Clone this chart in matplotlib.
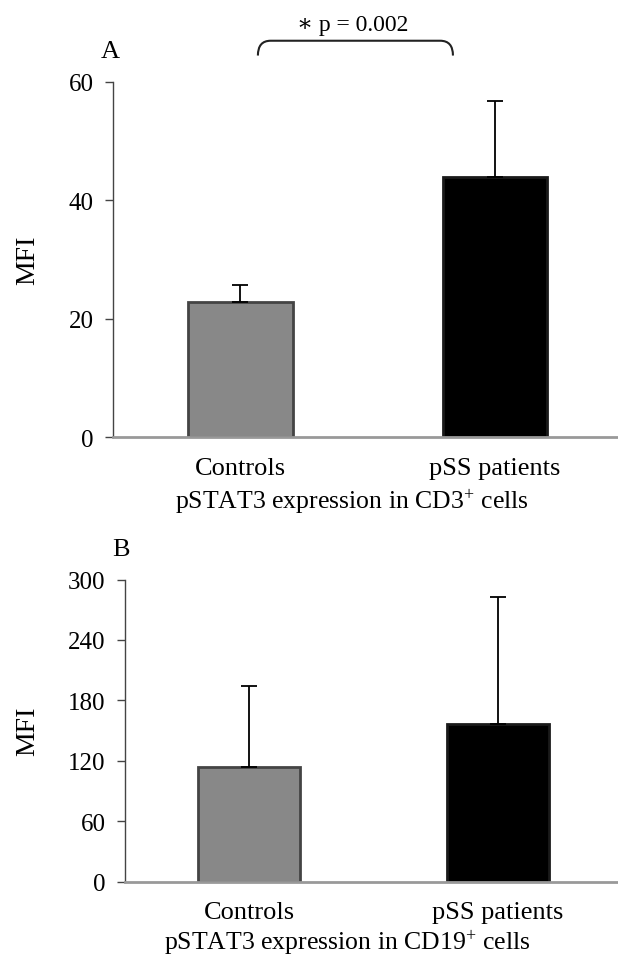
import numpy as np
import matplotlib
matplotlib.use("Agg")
from matplotlib import pyplot as plt
from matplotlib.path import Path
from matplotlib.patches import PathPatch

plt.rcParams['font.family'] = ['Liberation Serif', 'DejaVu Serif']
plt.rcParams['mathtext.fontset'] = 'custom'
plt.rcParams['mathtext.rm'] = 'Liberation Serif'
plt.rcParams['mathtext.it'] = 'Liberation Serif:italic'

groups = ["Controls", "pSS patients"]
bar_colors = ["#888888", "#000000"]
edge_colors = ["#444444", "#1a1a1a"]

# panel A: CD3+ cells
cd3_mean = [22.9, 43.9]
cd3_err = [2.8, 12.8]
cd3_ticks = [0, 20, 40, 60]

# panel B: CD19+ cells
cd19_mean = [114.4, 156.5]
cd19_err = [79.5, 126.6]
cd19_ticks = [0, 60, 120, 180, 240, 300]

p_text = "∗ p = 0.002"


def draw_panel(ax, mean, err, ticks, xlabel, letter, xlab_pos, ylab_x, letter_pos):
    x = np.arange(len(groups))
    ax.bar(x, mean, width=0.41, color=bar_colors, edgecolor=edge_colors, linewidth=2, zorder=2)
    ax.errorbar(x, mean, yerr=[np.zeros(len(err)), err], fmt='none', ecolor='black',
                elinewidth=1.3, capsize=5.5, capthick=1.3, zorder=3)
    ax.set_xlim(-0.5, 1.483)
    ax.set_ylim(0, ticks[-1])
    ax.set_yticks(ticks)
    ax.set_xticks(x)
    ax.set_xticklabels(groups)
    ax.tick_params(axis='x', length=0, pad=14, labelsize=19)
    ax.tick_params(axis='y', length=6, width=1, color='#444444', pad=8, labelsize=18)
    for s in ['top', 'right']:
        ax.spines[s].set_visible(False)
    ax.spines['left'].set_color('#444444')
    ax.spines['left'].set_linewidth(1)
    ax.spines['bottom'].set_color('#999999')
    ax.spines['bottom'].set_linewidth(2)
    ax.set_ylabel("MFI", fontsize=20, va='center')
    ax.yaxis.set_label_coords(ylab_x, 0.5)
    ax.set_xlabel(xlabel, fontsize=18.5, va='center')
    ax.xaxis.set_label_coords(*xlab_pos)
    ax.text(letter_pos[0], letter_pos[1], letter, transform=ax.transAxes,
            ha='center', va='center', fontsize=19)


fig = plt.figure(figsize=(6.18, 9.62), dpi=100)
axA = fig.add_axes([0.1828, 0.5444, 0.8172, 0.3697])
axB = fig.add_axes([0.2023, 0.0824, 0.7977, 0.3141])

draw_panel(axA, cd3_mean, cd3_err, cd3_ticks, "pSTAT3 expression in CD3$^{+}$ cells", "A",
           (0.473, -0.18), -0.168, (-0.006, 1.086))
draw_panel(axB, cd19_mean, cd19_err, cd19_ticks, "pSTAT3 expression in CD19$^{+}$ cells", "B",
           (0.452, -0.2), -0.197, (-0.008, 1.10))

# significance brace over panel A
x0, x1, ylo, yhi, r = 0.069, 0.835, 64.4, 66.9, 0.05
verts = [(x0, ylo), (x0, yhi), (x0 + r, yhi), (x1 - r, yhi), (x1, yhi), (x1, ylo)]
codes = [Path.MOVETO, Path.CURVE3, Path.CURVE3, Path.LINETO, Path.CURVE3, Path.CURVE3]
axA.add_patch(PathPatch(Path(verts, codes), facecolor='none', edgecolor='#222222',
                        linewidth=1.5, clip_on=False))
axA.text(0.442, 69.7, p_text, ha='center', va='center', fontsize=17, clip_on=False)

plt.savefig("out.png", dpi=100)
plt.close()
